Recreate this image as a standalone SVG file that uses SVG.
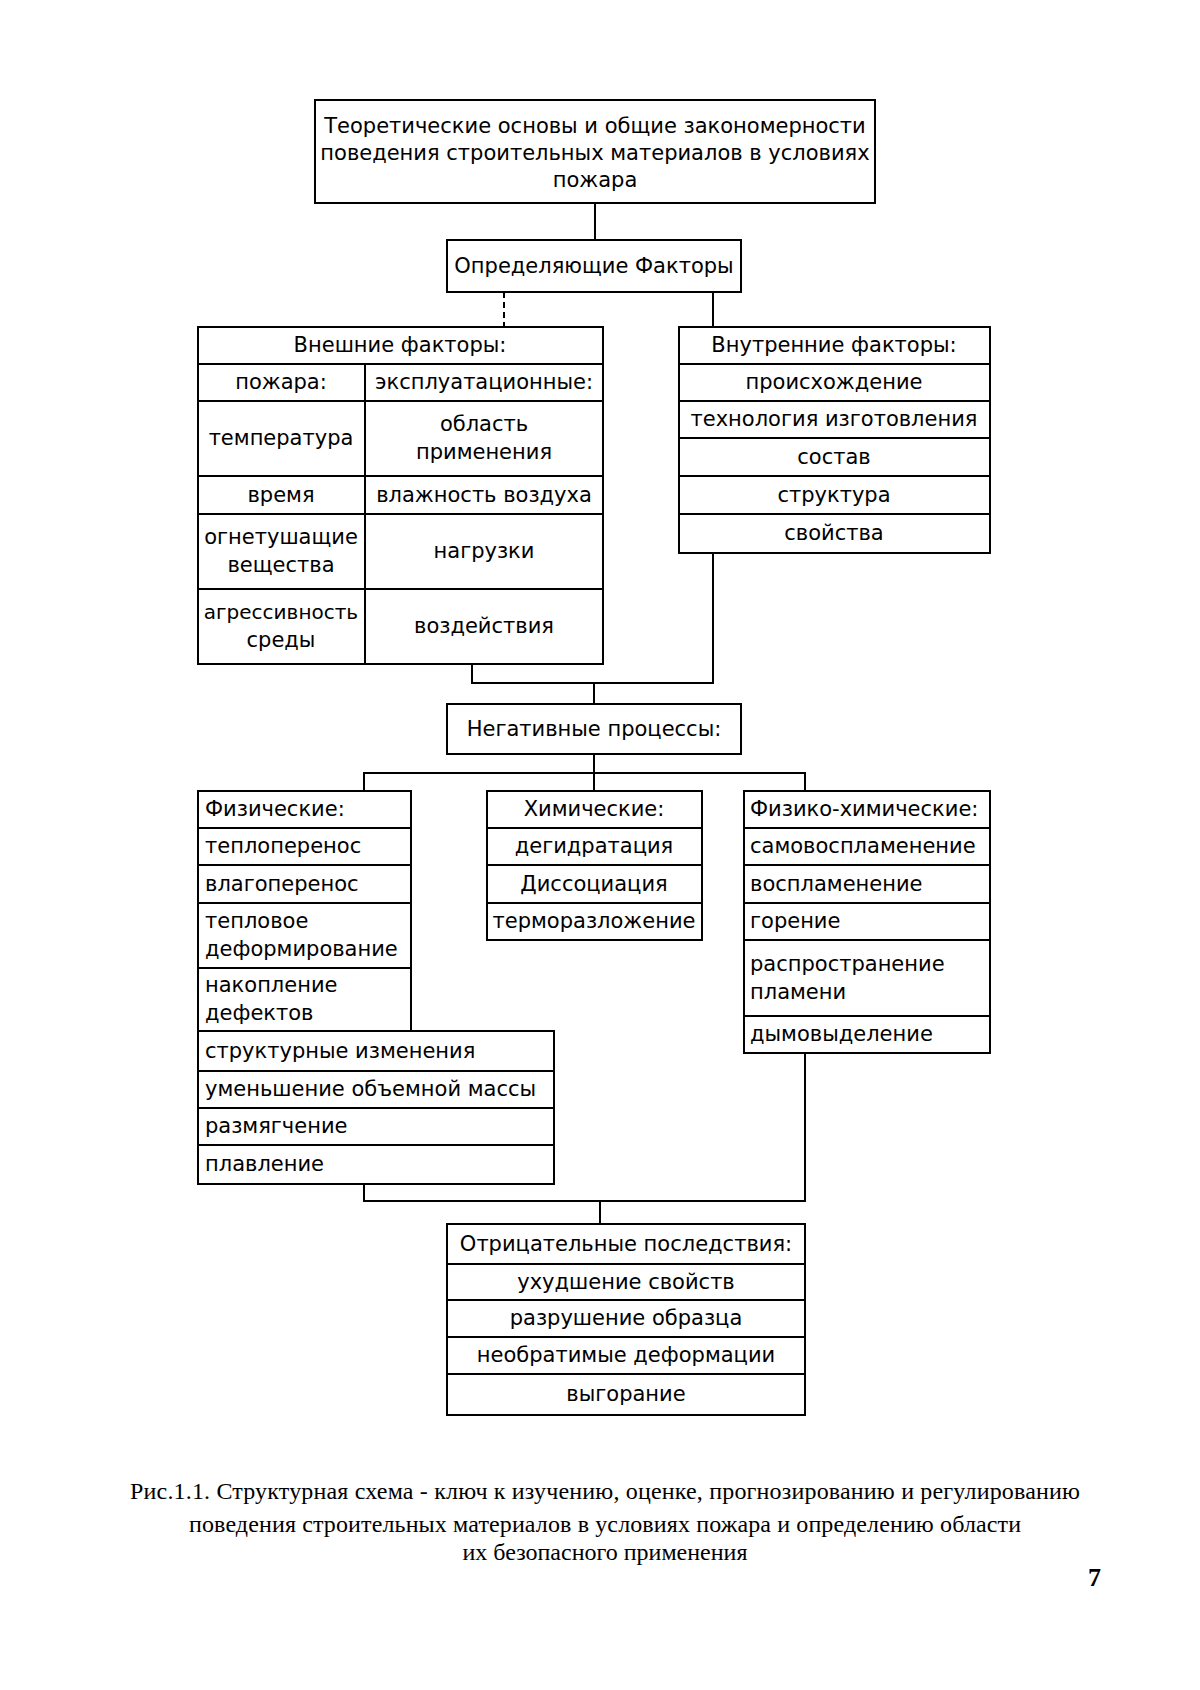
<svg xmlns="http://www.w3.org/2000/svg" width="1200" height="1690" viewBox="0 0 1200 1690">
<style>
.bx{fill:#fff;stroke:#000;stroke-width:2}
.ln{fill:none;stroke:#000;stroke-width:2}
.dl{fill:none;stroke:#000;stroke-width:2;stroke-dasharray:6 4}
.t{font-family:"DejaVu Sans",sans-serif;font-size:21px;fill:#000}
.s{font-size:20px}
.c{text-anchor:middle}
.cap{font-family:"Liberation Serif",serif;font-size:24px;fill:#000;text-anchor:middle}
.pg{font-family:"Liberation Serif",serif;font-size:26px;font-weight:bold;fill:#000}
</style>
<rect width="1200" height="1690" fill="#fff"/>
<g id="connectors">
<path class="ln" d="M595 203V240"/>
<path class="dl" d="M504 292V327"/>
<path class="ln" d="M713 292V327"/>
<path class="ln" d="M472 664V683H713V553M594 683V704"/>
<path class="ln" d="M594 754V791M364 791V773H805V791"/>
<path class="ln" d="M364 1184V1201H805V1053M600 1201V1224"/>
</g>
<g id="title">
<rect class="bx" x="315" y="100" width="560" height="103"/>
<text class="t c" x="595" y="133">Теоретические основы и общие закономерности</text>
<text class="t c" x="595" y="160">поведения строительных материалов в условиях</text>
<text class="t c" x="595" y="187">пожара</text>
</g>
<g id="factors">
<rect class="bx" x="447" y="240" width="294" height="52"/>
<text class="t c" x="594" y="273">Определяющие Факторы</text>
</g>
<g id="external">
<rect class="bx" x="198" y="327" width="405" height="337"/>
<path class="ln" d="M198 364H603M198 401H603M198 476H603M198 514H603M198 589H603M365 364V664"/>
<text class="t c" x="400" y="352">Внешние факторы:</text>
<text class="t c" x="281" y="389">пожара:</text>
<text class="t c" x="484" y="389">эксплуатационные:</text>
<text class="t c" x="281" y="445">температура</text>
<text class="t c" x="484" y="431">область</text>
<text class="t c" x="484" y="459">применения</text>
<text class="t c" x="281" y="502">время</text>
<text class="t c" x="484" y="502">влажность воздуха</text>
<text class="t c" x="281" y="544">огнетушащие</text>
<text class="t c" x="281" y="572">вещества</text>
<text class="t c" x="484" y="558">нагрузки</text>
<text class="t c s" x="281" y="619">агрессивность</text>
<text class="t c" x="281" y="647">среды</text>
<text class="t c" x="484" y="633">воздействия</text>
</g>
<g id="internal">
<rect class="bx" x="679" y="327" width="311" height="226"/>
<path class="ln" d="M679 364H990M679 401H990M679 438H990M679 476H990M679 514H990"/>
<text class="t c" x="834" y="352">Внутренние факторы:</text>
<text class="t c" x="834" y="389">происхождение</text>
<text class="t c" x="834" y="426">технология изготовления</text>
<text class="t c" x="834" y="464">состав</text>
<text class="t c" x="834" y="502">структура</text>
<text class="t c" x="834" y="540">свойства</text>
</g>
<g id="negative">
<rect class="bx" x="447" y="704" width="294" height="50"/>
<text class="t c" x="594" y="736">Негативные процессы:</text>
</g>
<g id="physical">
<rect class="bx" x="198" y="791" width="213" height="240"/>
<rect class="bx" x="198" y="1031" width="356" height="153"/>
<path class="ln" d="M198 828H411M198 865H411M198 903H411M198 968H411M198 1071H554M198 1108H554M198 1145H554"/>
<text class="t" x="205" y="816">Физические:</text>
<text class="t" x="205" y="853">теплоперенос</text>
<text class="t" x="205" y="891">влагоперенос</text>
<text class="t" x="205" y="928">тепловое</text>
<text class="t" x="205" y="956">деформирование</text>
<text class="t" x="205" y="992">накопление</text>
<text class="t" x="205" y="1020">дефектов</text>
<text class="t" x="205" y="1058">структурные изменения</text>
<text class="t" x="205" y="1096">уменьшение объемной массы</text>
<text class="t" x="205" y="1133">размягчение</text>
<text class="t" x="205" y="1171">плавление</text>
</g>
<g id="chemical">
<rect class="bx" x="487" y="791" width="215" height="149"/>
<path class="ln" d="M487 828H702M487 865H702M487 903H702"/>
<text class="t c" x="594" y="816">Химические:</text>
<text class="t c" x="594" y="853">дегидратация</text>
<text class="t c" x="594" y="891">Диссоциация</text>
<text class="t c" x="594" y="928">терморазложение</text>
</g>
<g id="physchem">
<rect class="bx" x="744" y="791" width="246" height="262"/>
<path class="ln" d="M744 828H990M744 865H990M744 903H990M744 940H990M744 1016H990"/>
<text class="t" x="750" y="816">Физико-химические:</text>
<text class="t" x="750" y="853">самовоспламенение</text>
<text class="t" x="750" y="891">воспламенение</text>
<text class="t" x="750" y="928">горение</text>
<text class="t" x="750" y="971">распространение</text>
<text class="t" x="750" y="999">пламени</text>
<text class="t" x="750" y="1041">дымовыделение</text>
</g>
<g id="consequences">
<rect class="bx" x="447" y="1224" width="358" height="191"/>
<path class="ln" d="M447 1264H805M447 1300H805M447 1337H805M447 1374H805"/>
<text class="t c" x="626" y="1251">Отрицательные последствия:</text>
<text class="t c" x="626" y="1289">ухудшение свойств</text>
<text class="t c" x="626" y="1325">разрушение образца</text>
<text class="t c" x="626" y="1362">необратимые деформации</text>
<text class="t c" x="626" y="1401">выгорание</text>
</g>
<g id="caption">
<text class="cap" x="605" y="1499" textLength="950">Рис.1.1. Структурная схема - ключ к изучению, оценке, прогнозированию и регулированию</text>
<text class="cap" x="605" y="1532" textLength="832">поведения строительных материалов в условиях пожара и определению области</text>
<text class="cap" x="605" y="1560">их безопасного применения</text>
<text class="pg" x="1088" y="1586">7</text>
</g>
</svg>
